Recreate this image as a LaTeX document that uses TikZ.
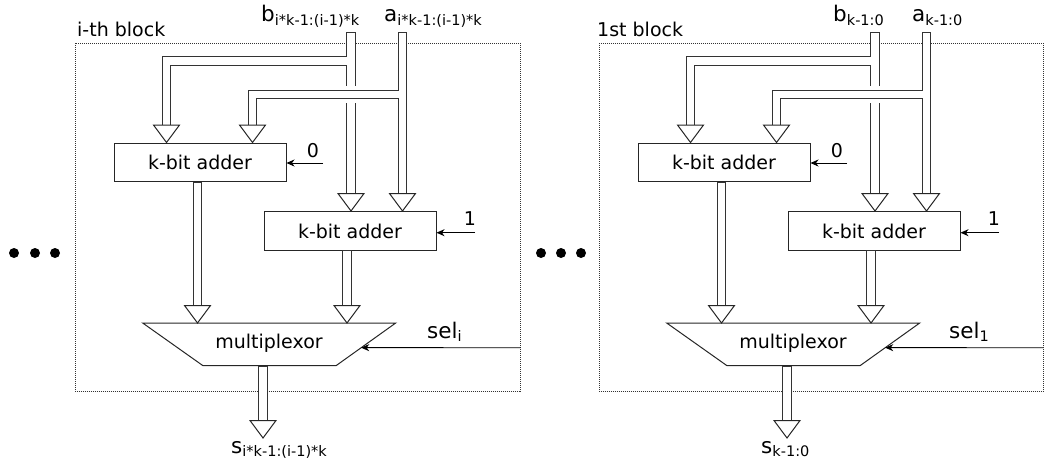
\documentclass[tikz,border=0pt]{standalone}
\usepackage{fontspec}
\setmainfont{DejaVu Sans}
\usetikzlibrary{arrows.meta,calc}
\tikzset{
  txt/.style={font=\fontsize{19}{22}\selectfont, inner sep=0pt},
  lbl/.style={font=\fontsize{21.5}{24}\selectfont, inner sep=0pt, anchor=base west},
  adder/.style={draw=black!85, line width=1pt, minimum width=172pt, minimum height=38.5pt, inner sep=0pt, font=\fontsize{19}{22}\selectfont},
  blockline/.style={draw=black!80, line width=0.8pt, dash pattern=on 1pt off 1pt},
  muxline/.style={draw=black!85, line width=1pt, line join=miter},
  busout/.style={draw=black!80, line width=9.5pt, line cap=butt, line join=miter},
  busin/.style={draw=white, line width=7.5pt, line cap=butt, line join=miter},
  busgap/.style={draw=white, line width=17pt, line cap=butt},
  headstyle/.style={draw=black!85, fill=white, line width=1pt, line join=miter},
  sig/.style={draw=black, line width=0.9pt, -{Stealth[length=8pt,width=7pt,inset=2.5pt]}},
}
\newcommand\bushead[2]{\filldraw[headstyle] (#1-13,#2) -- (#1+13,#2) -- (#1,#2+17.5) -- cycle;}
\newcommand\sub[1]{\raisebox{-3.5pt}{\fontsize{14.5}{16}\selectfont #1}}
\newcommand\adderblock[3]{%
\begin{scope}[xshift=#2]
  \draw[blockline] (75,43) rectangle (#3,391.5);
  \node[adder] (#1add0) at (200,162.5) {k-bit adder};
  \node[adder] (#1add1) at (350,231) {k-bit adder};
  \coordinate (#1mtl) at (142.7,323);
  \coordinate (#1mtr) at (395.7,323);
  \coordinate (#1mbr) at (336,365.7);
  \coordinate (#1mbl) at (203,365.7);
  \draw[muxline] (#1mtl) -- (#1mtr) -- (#1mbr) -- (#1mbl) -- cycle;
  \node[txt, anchor=base] (#1mux) at (269,348.3) {multiplexor};
  % b bus tree
  \draw[busout] (351,32) -- (351,193) (351,61) -| (166.5,125);
  \draw[busin] (351,33) -- (351,193) (351,61) -| (166.5,125);
  % a bus tree (crosses over b)
  \draw[busgap] (402.5,94.5) -- (256,94.5);
  \draw[busout] (402.5,32) -- (402.5,193) (402.5,94.5) -| (252.5,125);
  \draw[busin] (402.5,33) -- (402.5,193) (402.5,94.5) -| (252.5,125);
  % adder outputs
  \draw[busout] (197.5,182) -- (197.5,306);
  \draw[busin] (197.5,183) -- (197.5,306);
  \draw[busout] (347,250) -- (347,306);
  \draw[busin] (347,251) -- (347,306);
  % mux output
  \draw[busout] (263,365.7) -- (263,421);
  \draw[busin] (263,366.7) -- (263,421);
  \bushead{166.5}{125}
  \bushead{252.5}{125}
  \bushead{351}{193.5}
  \bushead{402.5}{193.5}
  \bushead{197.5}{305.5}
  \bushead{347}{305.5}
  \bushead{263}{420.5}
  % carry inputs
  \coordinate (#1c0) at (323,163);
  \coordinate (#1c1) at (475,232.7);
  \draw[sig] (#1c0) -- (#1c0 -| #1add0.east);
  \draw[sig] (#1c1) -- (#1c1 -| #1add1.east);
  \node[txt, anchor=base] (#1zero) at (313,157) {0};
  \node[txt, anchor=base] (#1one) at (470,225) {1};
  % select
  \coordinate (#1sel) at (#3,347.7);
  \draw[sig] (#1sel) -- ($(#1mtr)!0.578!(#1mbr)$);
\end{scope}}

\begin{document}
\begin{tikzpicture}[x=1pt,y=-1pt]
\useasboundingbox (0,0) rectangle (1044,467);
\adderblock{L}{0}{520.5}
\adderblock{R}{524}{519}
% ellipsis dots
\foreach \xx in {14,35,55,541,561,581} \fill (\xx,253) circle (5);
% labels block i
\node[txt, anchor=base west] (Lname) at (77,36.7) {i-th block};
\node[lbl] (Lb) at (261,21.7) {b\sub{i*k-1:(i-1)*k}};
\node[lbl] (La) at (384,21.7) {a\sub{i*k-1:(i-1)*k}};
\node[lbl] (Ls) at (231,453) {s\sub{i*k-1:(i-1)*k}};
\node[lbl] (Lsel) at (427,338) {sel\sub{i}};
% labels block 1
\node[txt, anchor=base west] (Rname) at (597,36.7) {1st block};
\node[lbl] (Rb) at (833,21.7) {b\sub{k-1:0}};
\node[lbl] (Ra) at (912,21.7) {a\sub{k-1:0}};
\node[lbl] (Rs) at (761,453) {s\sub{k-1:0}};
\node[lbl] (Rsel) at (949,338) {sel\sub{1}};
\end{tikzpicture}
\end{document}
